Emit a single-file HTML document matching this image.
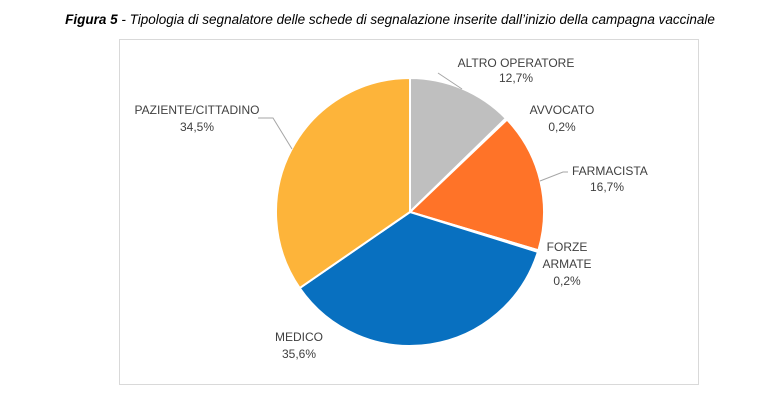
<!DOCTYPE html>
<html><head><meta charset="utf-8"><style>
html,body{margin:0;padding:0;background:#fff;width:780px;height:408px;overflow:hidden}
svg text{font-family:"Liberation Sans",sans-serif}
</style></head><body>
<svg width="780" height="408" viewBox="0 0 780 408">
<text x="390" y="24" text-anchor="middle" font-size="13.5" font-style="italic" fill="#000"><tspan font-weight="bold">Figura 5</tspan> - Tipologia di segnalatore delle schede di segnalazione inserite dall’inizio della campagna vaccinale</text>
<rect x="119.5" y="39.5" width="579" height="345" fill="#fff" stroke="#d9d9d9" stroke-width="1"/>
<g stroke="#fff" stroke-width="2" stroke-linejoin="round">
<path d="M410,212 L410,78 A134,134 0 0 1 505.9,118.4 Z" fill="#bfbfbf"/>
<path d="M410,212 L505.9,118.4 A134,134 0 0 1 507,119.6 Z" fill="#ed7d31"/>
<path d="M410,212 L507,119.6 A134,134 0 0 1 538.4,250.3 Z" fill="#ff7328"/>
<path d="M410,212 L538.4,250.3 A134,134 0 0 1 537.9,251.9 Z" fill="#2d5c9a"/>
<path d="M410,212 L537.9,251.9 A134,134 0 0 1 299.7,288.1 Z" fill="#0870c0"/>
<path d="M410,212 L299.7,288.1 A134,134 0 0 1 410,78 Z" fill="#fdb43a"/>
</g>
<g stroke="#a6a6a6" stroke-width="1" fill="none">
<polyline points="438,73 462,89"/>
<polyline points="540,181 563,172 568,172"/>
<polyline points="258,118 273,118 292,149"/>
</g>
<g font-size="12" fill="#404040" text-anchor="middle">
<text x="516" y="67">ALTRO OPERATORE</text><text x="516" y="82">12,7%</text>
<text x="562" y="114">AVVOCATO</text><text x="562" y="131">0,2%</text>
<text x="607" y="175" text-anchor="start" dx="-35">FARMACISTA</text><text x="607" y="191">16,7%</text>
<text x="567" y="251">FORZE</text><text x="567" y="268">ARMATE</text><text x="567" y="285">0,2%</text>
<text x="299" y="341">MEDICO</text><text x="299" y="358">35,6%</text>
<text x="197" y="114">PAZIENTE/CITTADINO</text><text x="197" y="131">34,5%</text>
</g>
</svg>
</body></html>
